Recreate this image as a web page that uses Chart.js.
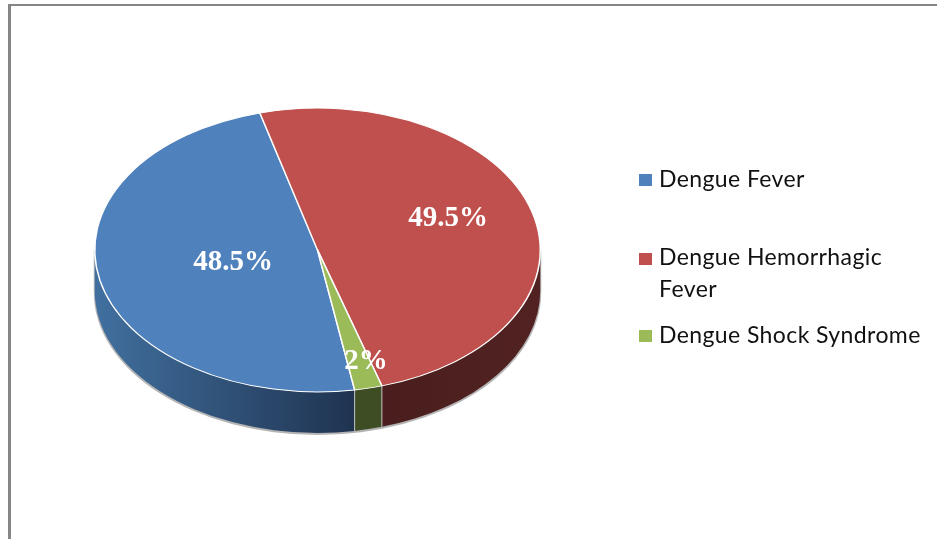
<!DOCTYPE html>
<html>
<head>
<meta charset="utf-8">
<style>
html,body{margin:0;padding:0;background:#fff;overflow:hidden}
#wrap{position:absolute;left:0;top:0;width:937px;height:539px}
</style>
<script src="https://cdn.jsdelivr.net/npm/chart.js@4"></script>
</head>
<body>
<div id="wrap"><canvas id="c" width="937" height="539"></canvas></div>
<script>
const categories = ["Dengue Fever", "Dengue Hemorrhagic Fever", "Dengue Shock Syndrome"];
const legendLines = [["Dengue Fever"], ["Dengue Hemorrhagic", "Fever"], ["Dengue Shock Syndrome"]];
const values = [48.5, 49.5, 2];
const valueLabels = ["48.5%", "49.5%", "2%"];
const colors = ["#4f81bd", "#c0504d", "#9bbb59"];

const squash = 0.637, depth = 41;
const labelPos = [[233, 263], [448, 219], [366, 362]];
const legendPos = [{sy:174, ty:[187]}, {sy:253, ty:[265, 297]}, {sy:330, ty:[343]}];
const wallStops = [["#41709f", "#1f3350"], ["#4a1e1e", "#522222"], ["#3f4d25", "#3f4d25"]];

const pie3d = {
  id: "pie3d",
  beforeDraw(chart) {
    const c = chart.ctx;
    c.save();
    c.fillStyle = "#fff"; c.fillRect(0, 0, chart.width, chart.height);
    c.fillStyle = "#868686";
    c.fillRect(8, 4, chart.width - 8, 2);
    c.fillRect(8, 4, 3, chart.height - 4);
    c.restore();
  },
  beforeDatasetsDraw(chart) {
    const c = chart.ctx;
    const arcs = chart.getDatasetMeta(0).data;
    const cx = arcs[0].x, cy = arcs[0].y, rx = arcs[0].outerRadius, ry = rx * squash;
    c.save();
    // soft edge round the wall
    c.beginPath();
    c.ellipse(cx, cy + depth + 1, rx + 1, ry + 1, 0, 0, Math.PI);
    c.lineTo(cx - rx - 1, cy); c.lineTo(cx + rx + 1, cy);
    c.closePath();
    c.fillStyle = "#b4b4b4"; c.fill();
    arcs.forEach((a, i) => {
      [[0, Math.PI], [2 * Math.PI, 3 * Math.PI]].forEach(([lo, hi]) => {
        const s = Math.max(a.startAngle, lo), e = Math.min(a.endAngle, hi);
        if (e <= s) return;
        c.beginPath();
        c.ellipse(cx, cy, rx, ry, 0, s, e);
        c.ellipse(cx, cy + depth, rx, ry, 0, e, s, true);
        c.closePath();
        const x0 = cx + rx * Math.cos(e), x1 = cx + rx * Math.cos(s);
        const g = c.createLinearGradient(x0, 0, x1, 0);
        g.addColorStop(0, wallStops[i][0]); g.addColorStop(1, wallStops[i][1]);
        c.fillStyle = g; c.fill();
        c.strokeStyle = "rgba(205,205,205,0.9)"; c.lineWidth = 1;
        if (i === 2) {
          c.beginPath();
          [s, e].forEach(t => {
            const x = cx + rx * Math.cos(t), y = cy + ry * Math.sin(t);
            c.moveTo(x, y); c.lineTo(x, y + depth);
          });
          c.stroke();
        }
      });
    });
    c.restore();
    c.save();
    c.translate(cx, cy); c.scale(1, squash); c.translate(-cx, -cy);
  },
  afterDatasetsDraw(chart) {
    const c = chart.ctx;
    c.restore();
    c.save();
    c.fillStyle = "#fff";
    c.font = "bold 29px 'Liberation Serif'";
    c.textAlign = "center"; c.textBaseline = "middle";
    valueLabels.forEach((t, i) => c.fillText(t, labelPos[i][0], labelPos[i][1]));
    c.textAlign = "left"; c.textBaseline = "alphabetic";
    c.font = "23px Lato";
    c.letterSpacing = "0.4px";
    legendLines.forEach((lines, i) => {
      c.fillStyle = colors[i];
      c.fillRect(639, legendPos[i].sy, 13, 12);
      c.fillStyle = "#111";
      lines.forEach((t, j) => c.fillText(t, 659, legendPos[i].ty[j]));
    });
    c.restore();
  }
};

new Chart(document.getElementById("c"), {
  type: "pie",
  data: {
    labels: categories,
    datasets: [{ data: values, backgroundColor: colors, borderColor: "#fff", borderWidth: 1.5 }]
  },
  options: {
    responsive: false,
    animation: false,
    rotation: 170.4,
    layout: { padding: { left: 94, right: 396, top: 26.5, bottom: 65.5 } },
    plugins: { legend: { display: false }, tooltip: { enabled: false } }
  },
  plugins: [pie3d]
});
</script>
</body>
</html>
